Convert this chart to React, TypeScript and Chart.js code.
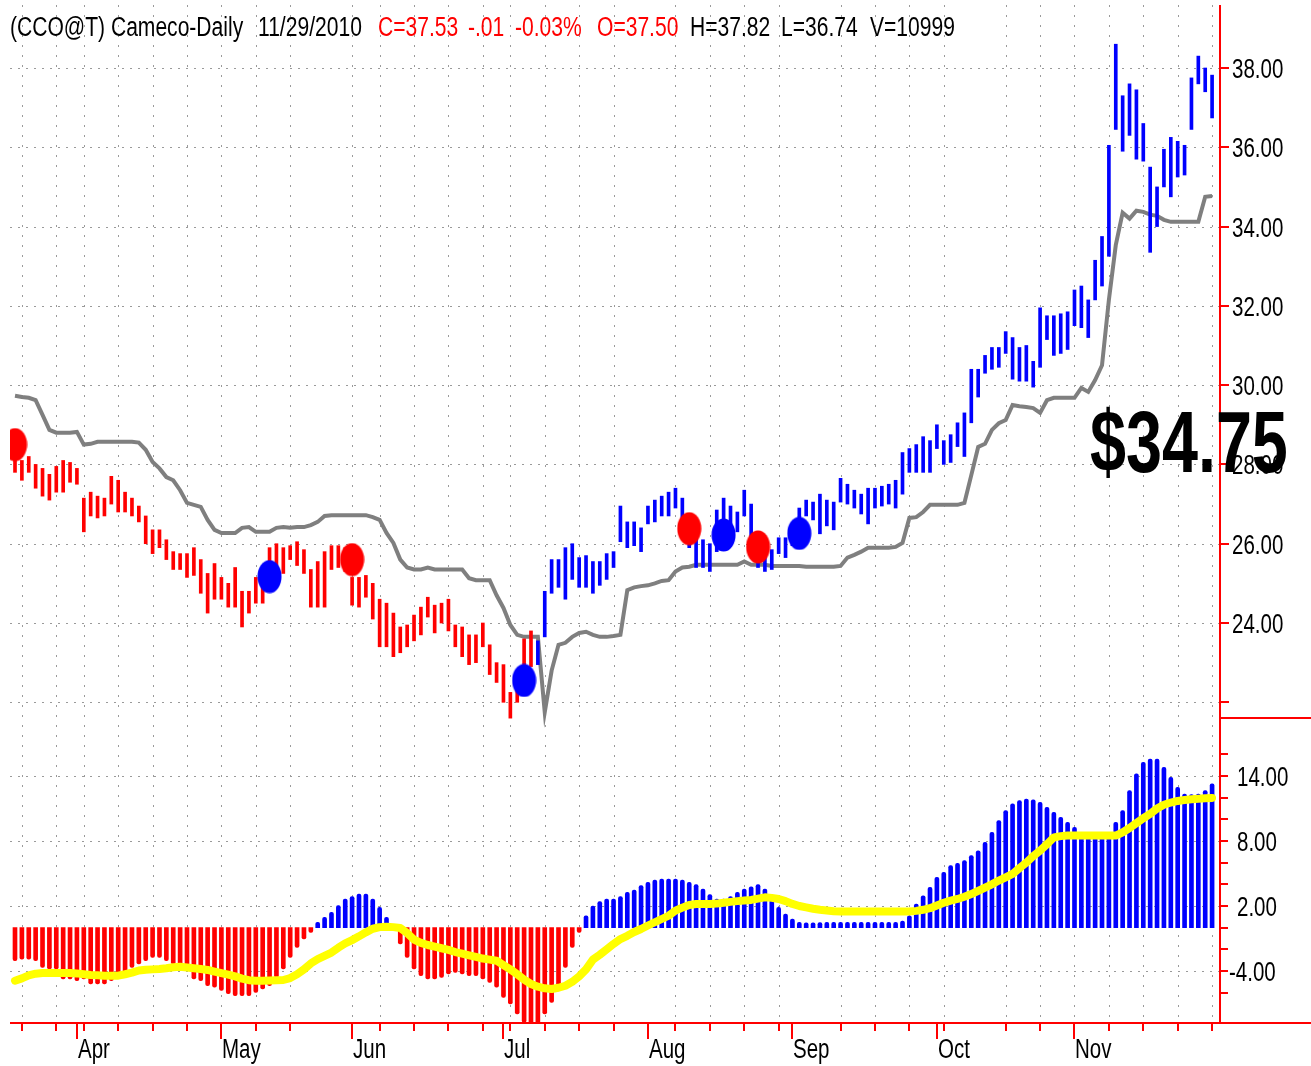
import React, { useEffect, useRef } from 'react';
import { Chart, registerables } from 'chart.js';

Chart.register(...registerables);

// ---------- DATA ----------
const priceHigh = [
  28.5, 28.1, 28.2, 28.0, 27.9, 27.75, 27.95, 28.1, 28.05, 27.9,
  27.15, 27.3, 27.2, 27.15, 27.7, 27.6, 27.3, 27.15, 26.95, 26.7,
  26.35, 26.35, 26.1, 25.8, 25.75, 25.75, 25.9, 25.6, 25.25, 25.5,
  25.15, 25.0, 25.4, 24.8, 24.8, 25.15, 25.25, 25.9, 26.0, 25.9,
  25.95, 26.05, 25.85, 25.35, 25.55, 25.8, 25.95, 25.95, 25.9, 25.15,
  25.15, 25.2, 25.0, 24.6, 24.5, 24.25, 23.9, 23.95, 24.2, 24.4,
  24.65, 24.45, 24.5, 24.6, 23.95, 23.9, 23.7, 23.7, 24.0, 23.45,
  23.0, 22.95, 22.25, 22.8, 23.6, 23.8, 23.55, 24.8, 25.6, 25.6,
  25.9, 26.0, 25.65, 25.7, 25.55, 25.55, 25.75, 25.8, 26.95, 26.55,
  26.55, 26.4, 26.95, 27.1, 27.2, 27.3, 27.4, 27.15, 26.6, 26.4,
  26.1, 26.0, 26.85, 27.15, 26.95, 26.8, 27.35, 27.0, 25.9, 25.95,
  25.85, 26.15, 26.15, 26.5, 26.9, 27.1, 27.05, 27.25, 27.1, 27.05,
  27.65, 27.5, 27.35, 27.25, 27.4, 27.4, 27.45, 27.5, 27.6, 28.3,
  28.4, 28.5, 28.7, 28.6, 29.0, 28.6, 28.75, 29.05, 29.3, 30.4,
  30.4, 30.75, 30.95, 30.95, 31.35, 31.2, 30.95, 31.0, 30.6, 31.95,
  31.75, 31.75, 31.8, 31.85, 32.4, 32.5, 32.15, 33.15, 33.75, 36.05,
  38.6, 37.3, 37.6, 37.45, 36.6, 35.5, 35.0, 35.95, 36.25, 36.15,
  36.05, 37.75, 38.3, 38.0, 37.82,
];

const priceLow = [
  27.8, 27.6, 27.8, 27.4, 27.2, 27.1, 27.3, 27.3, 27.55, 27.5,
  26.3, 26.7, 26.65, 26.7, 27.0, 26.8, 26.8, 26.7, 26.55, 26.0,
  25.75, 25.9, 25.6, 25.35, 25.35, 25.15, 25.2, 24.75, 24.25, 24.6,
  24.6, 24.4, 24.4, 23.9, 24.25, 24.5, 24.5, 25.1, 25.4, 25.25,
  25.6, 25.45, 25.25, 24.4, 24.4, 24.4, 25.35, 25.4, 25.3, 24.45,
  24.4, 24.65, 24.1, 23.4, 23.4, 23.15, 23.25, 23.4, 23.55, 23.7,
  24.15, 23.75, 24.0, 23.8, 23.4, 23.15, 22.95, 23.0, 23.4, 22.7,
  22.5, 22.0, 21.6, 22.0, 22.75, 22.9, 22.95, 23.65, 24.75, 24.9,
  24.6, 25.1, 24.9, 24.9, 24.75, 24.95, 25.1, 25.4, 26.05, 25.9,
  25.95, 25.8, 26.5, 26.55, 26.7, 26.7, 26.9, 26.4, 25.9, 25.4,
  25.4, 25.3, 25.8, 26.15, 26.15, 26.3, 26.7, 25.85, 25.4, 25.3,
  25.35, 25.75, 25.65, 25.95, 26.35, 26.7, 26.6, 26.25, 26.45, 26.35,
  27.05, 27.0, 26.9, 26.75, 26.5, 26.9, 26.95, 27.0, 26.9, 27.25,
  27.8, 27.8, 27.8, 27.8, 28.4, 28.0, 28.05, 28.45, 28.2, 29.05,
  29.7, 30.3, 30.4, 30.45, 30.8, 30.15, 30.1, 30.1, 29.95, 30.45,
  31.15, 30.75, 30.8, 30.9, 31.5, 31.45, 31.2, 32.15, 32.5, 33.25,
  36.45, 35.9, 36.3, 35.7, 35.65, 33.35, 34.0, 35.0, 34.75, 35.25,
  35.3, 36.45, 37.6, 37.4, 36.74,
];

const stopLine = [
  29.73, 29.7, 29.68, 29.62, 29.25, 28.87, 28.8, 28.8, 28.8, 28.82,
  28.5, 28.52, 28.57, 28.57, 28.57, 28.57, 28.57, 28.57, 28.55, 28.37,
  28.06, 27.9, 27.68, 27.6, 27.35, 27.03, 26.98, 26.93, 26.6, 26.35,
  26.27, 26.27, 26.27, 26.4, 26.42, 26.3, 26.3, 26.3, 26.4, 26.42,
  26.4, 26.42, 26.42, 26.47, 26.55, 26.7, 26.72, 26.72, 26.72, 26.72,
  26.72, 26.72, 26.67, 26.6, 26.27, 26.02, 25.6, 25.4, 25.35, 25.35,
  25.4, 25.35, 25.35, 25.35, 25.35, 25.35, 25.13, 25.08, 25.08, 25.08,
  24.7, 24.38, 23.95, 23.7, 23.65, 23.65, 23.65, 21.75, 22.8, 23.45,
  23.5, 23.65, 23.75, 23.78, 23.7, 23.65, 23.65, 23.67, 23.7, 24.83,
  24.9, 24.93, 24.95, 25.0, 25.06, 25.08, 25.3, 25.4, 25.42, 25.47,
  25.47, 25.47, 25.47, 25.47, 25.47, 25.47, 25.55, 25.47, 25.47, 25.47,
  25.44, 25.44, 25.44, 25.44, 25.44, 25.42, 25.42, 25.42, 25.42, 25.42,
  25.44, 25.65, 25.72, 25.8, 25.9, 25.9, 25.9, 25.9, 25.92, 26.02,
  26.65, 26.67, 26.8, 26.98, 26.98, 26.98, 26.98, 26.98, 27.03, 27.73,
  28.44, 28.52, 28.87, 29.04, 29.12, 29.5, 29.47, 29.45, 29.42, 29.3,
  29.62, 29.68, 29.68, 29.68, 29.68, 29.93, 29.83, 30.13, 30.5, 32.15,
  33.53, 34.35, 34.2, 34.4, 34.37, 34.3, 34.27, 34.17, 34.12, 34.12,
  34.12, 34.12, 34.12, 34.75, 34.77,
];

const histogram = [
  -3.05, -2.9, -2.9, -3.05, -3.66, -3.8, -3.8, -4.74, -4.74, -4.9,
  -4.74, -5.2, -5.2, -5.2, -4.9, -4.28, -4.12, -3.66, -3.35, -3.05,
  -2.74, -2.74, -3.05, -3.35, -3.66, -3.97, -4.74, -4.9, -5.36, -5.5,
  -5.8, -6.1, -6.28, -6.28, -6.28, -5.97, -5.66, -5.36, -4.59, -3.8,
  -2.74, -1.82, -1.05, -0.43, 0.49, 0.95, 1.41, 2.03, 2.65, 2.86,
  3.11, 3.11, 2.65, 1.88, 0.95, -0.28, -1.5, -2.74, -3.8, -4.43,
  -4.74, -4.74, -4.59, -4.28, -4.12, -4.28, -4.43, -4.43, -4.74, -5.05,
  -5.5, -6.43, -7.05, -7.97, -8.74, -9.2, -9.0, -7.97, -6.89, -5.5,
  -3.66, -1.82, -0.43, 1.1, 2.0, 2.4, 2.65, 2.65, 2.86, 3.26,
  3.48, 3.88, 4.18, 4.4, 4.49, 4.49, 4.49, 4.4, 4.18, 3.97,
  3.57, 3.05, 2.65, 2.65, 2.86, 3.26, 3.57, 3.78, 3.97, 3.57,
  2.96, 1.87, 1.26, 0.8, 0.5, 0.45, 0.45, 0.48, 0.5, 0.5,
  0.5, 0.5, 0.5, 0.5, 0.5, 0.5, 0.5, 0.5, 0.5, 0.6,
  1.1, 2.18, 2.95, 3.72, 4.65, 5.1, 5.72, 5.94, 6.19, 6.65,
  7.1, 7.88, 8.8, 9.88, 10.8, 11.42, 11.73, 11.88, 11.8, 11.57,
  11.1, 10.65, 10.19, 9.72, 9.26, 8.8, 8.5, 8.5, 8.5, 8.5,
  9.72, 10.8, 12.65, 14.2, 15.26, 15.57, 15.57, 14.8, 13.88, 12.95,
  12.34, 12.28, 12.34, 12.65, 13.27,
];

const signalLine = [
  -4.9, -4.68, -4.4, -4.25, -4.19, -4.19, -4.19, -4.19, -4.19, -4.22,
  -4.3, -4.37, -4.4, -4.43, -4.43, -4.43, -4.3, -4.15, -3.95, -3.88,
  -3.85, -3.82, -3.75, -3.65, -3.6, -3.68, -3.75, -3.82, -3.9, -4.05,
  -4.2, -4.34, -4.5, -4.7, -4.85, -4.89, -4.89, -4.87, -4.85, -4.83,
  -4.65, -4.3, -3.85, -3.3, -2.9, -2.6, -2.3, -1.85, -1.45, -1.15,
  -0.8, -0.43, -0.1, 0.05, 0.09, 0.05, -0.03, -0.5, -1.1, -1.4,
  -1.6, -1.75, -1.9, -2.05, -2.25, -2.4, -2.55, -2.7, -2.85, -2.95,
  -3.05, -3.45, -3.85, -4.3, -4.8, -5.2, -5.45, -5.6, -5.66, -5.55,
  -5.36, -5.0, -4.5, -3.85, -2.95, -2.5, -2.0, -1.5, -1.05, -0.75,
  -0.4, -0.12, 0.2, 0.5, 0.8, 1.1, 1.57, 1.85, 2.1, 2.19,
  2.19, 2.19, 2.22, 2.3, 2.38, 2.45, 2.5, 2.56, 2.68, 2.8,
  2.75, 2.65, 2.45, 2.19, 2.0, 1.87, 1.75, 1.65, 1.58, 1.52,
  1.5, 1.5, 1.5, 1.5, 1.5, 1.5, 1.5, 1.5, 1.5, 1.5,
  1.5, 1.55, 1.65, 1.8, 2.05, 2.3, 2.5, 2.65, 2.85, 3.1,
  3.4, 3.7, 4.0, 4.35, 4.65, 4.96, 5.5, 6.0, 6.6, 7.11,
  7.7, 8.34, 8.45, 8.5, 8.5, 8.5, 8.5, 8.5, 8.5, 8.5,
  8.5, 8.8, 9.2, 9.65, 10.1, 10.5, 11.0, 11.35, 11.55, 11.7,
  11.78, 11.85, 11.9, 11.95, 11.98,
];

const FIRST_BLUE_BAR = 76;

const redDotIndex = [0, 49, 98, 108];
const redDotPrice = [28.5, 25.6, 26.38, 25.92];
const blueDotIndex = [37, 74, 103, 114];
const blueDotPrice = [25.17, 22.55, 26.22, 26.26];

const monthTickIndex = [9, 30, 49, 71, 92, 113, 134, 154];
const monthLabels = ['Apr', 'May', 'Jun', 'Jul', 'Aug', 'Sep', 'Oct', 'Nov'];
const weekTickIndex = [
  1, 6, 10, 15, 20, 25, 30, 35, 40, 49, 53, 58, 63, 68, 72, 77, 82, 87,
  96, 101, 106, 111, 120, 125, 130, 135, 144, 149, 154, 159, 164, 169, 174,
];

const priceTicks = [22, 24, 26, 28, 30, 32, 34, 36, 38];
const priceTickLabels = ['', '24.00', '26.00', '28.00', '30.00', '32.00', '34.00', '36.00', '38.00'];
const indicatorTicks = [-6, -4, -2, 0, 2, 4, 6, 8, 10, 12, 14, 16];
const indicatorLabelValues = [-4, 2, 8, 14];
const indicatorLabels = ['-4.00', '2.00', '8.00', '14.00'];

const titleParts = [
  { text: '(CCO@T) Cameco-Daily', x: 10, color: '#000000' },
  { text: '11/29/2010', x: 258, color: '#000000' },
  { text: 'C=37.53', x: 378, color: '#ff0000' },
  { text: '-.01', x: 468, color: '#ff0000' },
  { text: '-0.03%', x: 515, color: '#ff0000' },
  { text: 'O=37.50', x: 597, color: '#ff0000' },
  { text: 'H=37.82', x: 690, color: '#000000' },
  { text: 'L=36.74', x: 781, color: '#000000' },
  { text: 'V=10999', x: 870, color: '#000000' },
];
const lastStopText = '$34.75';

// ---------- STYLE ----------
const RED = '#ff0000';
const BLUE = '#0000ff';
const GRID = '#9a9a9a';
const FONT_FAMILY = '"Liberation Sans", Arial, Helvetica, sans-serif';
const W = 1311;
const H = 1066;

function drawText(
  ctx: CanvasRenderingContext2D,
  text: string,
  x: number,
  y: number,
  font: string,
  color: string,
  sx: number,
) {
  ctx.save();
  ctx.font = font;
  ctx.fillStyle = color;
  ctx.textBaseline = 'alphabetic';
  ctx.textAlign = 'left';
  ctx.translate(x, y);
  ctx.scale(sx, 1);
  ctx.fillText(text, 0, 0);
  ctx.restore();
}

function makeDot(color: string): HTMLCanvasElement {
  const c = document.createElement('canvas');
  c.width = 25;
  c.height = 34;
  const g = c.getContext('2d')!;
  g.fillStyle = color;
  g.beginPath();
  g.ellipse(12.5, 17, 12, 16.5, 0, 0, Math.PI * 2);
  g.fill();
  return c;
}

const overlayPlugin = {
  id: 'overlay',
  beforeDatasetsDraw(chart: any) {
    const { ctx, chartArea: a, scales } = chart;
    const xs = scales.x;
    const yP = scales.yP;
    const yH = scales.yH;
    ctx.save();
    ctx.strokeStyle = GRID;
    ctx.lineWidth = 1;
    ctx.setLineDash([2, 8]);
    for (const w of weekTickIndex) {
      const px = Math.round(xs.getPixelForValue(w)) + 0.5;
      ctx.beginPath();
      ctx.moveTo(px, a.top);
      ctx.lineTo(px, a.bottom);
      ctx.stroke();
    }
    ctx.setLineDash([2, 6]);
    for (const v of priceTicks) {
      const py = Math.round(yP.getPixelForValue(v)) + 0.5;
      ctx.beginPath();
      ctx.moveTo(a.left, py);
      ctx.lineTo(a.right, py);
      ctx.stroke();
    }
    for (const v of indicatorLabelValues) {
      const py = Math.round(yH.getPixelForValue(v)) + 0.5;
      ctx.beginPath();
      ctx.moveTo(a.left, py);
      ctx.lineTo(a.right, py);
      ctx.stroke();
    }
    ctx.restore();
  },
  afterDatasetsDraw(chart: any) {
    const { ctx, chartArea: a, scales } = chart;
    const xs = scales.x;
    const yP = scales.yP;
    const yH = scales.yH;
    const labelFont = `27px ${FONT_FAMILY}`;
    ctx.save();
    ctx.fillStyle = RED;
    ctx.fillRect(a.right - 1, a.top, 2, a.bottom - a.top);
    ctx.fillRect(a.left, a.bottom - 1, W - a.left, 2);
    const sep = Math.round(yP.getPixelForValue(21.6));
    ctx.fillRect(a.right, sep - 1, W - a.right, 2);
    priceTicks.forEach((v, i) => {
      const py = Math.round(yP.getPixelForValue(v));
      ctx.fillStyle = RED;
      ctx.fillRect(a.right + 1, py - 1, 8, 2);
      if (priceTickLabels[i]) drawText(ctx, priceTickLabels[i], a.right + 12, py + 10, labelFont, '#000', 0.76);
    });
    indicatorTicks.forEach((v) => {
      const py = Math.round(yH.getPixelForValue(v));
      ctx.fillStyle = RED;
      ctx.fillRect(a.right + 1, py - 1, 7, 2);
    });
    indicatorLabelValues.forEach((v, i) => {
      const py = Math.round(yH.getPixelForValue(v));
      const lx = v < 0 ? a.right + 9 : a.right + 17;
      drawText(ctx, indicatorLabels[i], lx, py + 10, labelFont, '#000', 0.76);
    });
    ctx.fillStyle = RED;
    weekTickIndex.forEach((w) => {
      const px = Math.round(xs.getPixelForValue(w));
      ctx.fillRect(px - 1, a.bottom, 2, 8);
    });
    monthTickIndex.forEach((m, i) => {
      const px = Math.round(xs.getPixelForValue(m));
      ctx.fillStyle = RED;
      ctx.fillRect(px - 1, a.bottom, 2, 16);
      drawText(ctx, monthLabels[i], px + 1, a.bottom + 35, labelFont, '#000', 0.76);
    });
    titleParts.forEach((p) => {
      drawText(ctx, p.text, p.x, 36, `27px ${FONT_FAMILY}`, p.color, 0.78);
    });
    drawText(ctx, lastStopText, 1090, 472, `bold 88px ${FONT_FAMILY}`, '#000', 0.735);
    ctx.restore();
  },
};

export default function App() {
  const ref = useRef<HTMLCanvasElement>(null);

  useEffect(() => {
    const canvas = ref.current;
    if (!canvas) return;
    const idx = priceHigh.map((_, i) => i);

    const priceBars = idx.map((i) => ({ x: i, y: [priceLow[i], priceHigh[i]] }));
    const priceColors = idx.map((i) => (i < FIRST_BLUE_BAR ? RED : BLUE));
    const stopData = stopLine.map((v, i) => ({ x: i, y: v }));
    const histData = histogram.map((v, i) => ({ x: i, y: v }));
    const histColors = histogram.map((v) => (v < 0 ? RED : BLUE));
    const sigData = signalLine.map((v, i) => ({ x: i, y: v }));
    const redDots = redDotIndex.map((i, k) => ({ x: i, y: redDotPrice[k] }));
    const blueDots = blueDotIndex.map((i, k) => ({ x: i, y: blueDotPrice[k] }));

    const chart = new Chart(canvas, {
      type: 'bar',
      data: {
        datasets: [
          {
            type: 'line',
            data: redDots,
            yAxisID: 'yP',
            xAxisID: 'x',
            showLine: false,
            pointStyle: makeDot(RED) as any,
            pointRadius: 12,
            order: 0,
          } as any,
          {
            type: 'line',
            data: blueDots,
            yAxisID: 'yP',
            xAxisID: 'x',
            showLine: false,
            pointStyle: makeDot(BLUE) as any,
            pointRadius: 12,
            order: 1,
          } as any,
          {
            type: 'bar',
            data: priceBars,
            yAxisID: 'yP',
            xAxisID: 'x',
            backgroundColor: priceColors,
            borderWidth: 0,
            barThickness: 3,
            grouped: false,
            order: 2,
          } as any,
          {
            type: 'line',
            data: stopData,
            yAxisID: 'yP',
            xAxisID: 'x',
            borderColor: '#7f7f7f',
            borderWidth: 4,
            pointRadius: 0,
            tension: 0,
            fill: false,
            order: 3,
          } as any,
          {
            type: 'line',
            data: sigData,
            yAxisID: 'yH',
            xAxisID: 'x',
            borderColor: '#ffff00',
            borderWidth: 8,
            borderCapStyle: 'round',
            borderJoinStyle: 'round',
            pointRadius: 0,
            tension: 0,
            fill: false,
            order: 4,
          } as any,
          {
            type: 'bar',
            data: histData,
            yAxisID: 'yH',
            xAxisID: 'x',
            backgroundColor: histColors,
            borderWidth: 0,
            borderRadius: 2,
            barThickness: 4,
            grouped: false,
            order: 5,
          } as any,
        ],
      },
      options: {
        responsive: false,
        animation: false,
        devicePixelRatio: 1,
        events: [],
        layout: { autoPadding: false, padding: { left: 10, right: 91, top: 5, bottom: 43 } },
        scales: {
          x: { type: 'linear', display: false, offset: false, grid: { offset: false }, min: -0.727, max: 175.15 },
          yP: { type: 'linear', axis: 'y', display: false, offset: false, min: 13.91, max: 39.589 },
          yH: { type: 'linear', axis: 'y', display: false, offset: false, min: -8.8, max: 85.17 },
        } as any,
        plugins: {
          legend: { display: false },
          tooltip: { enabled: false },
          title: { display: false },
        },
      } as any,
      plugins: [overlayPlugin as any],
    });
    return () => chart.destroy();
  }, []);

  return (
    <div style={{ position: 'absolute', left: 0, top: 0, width: W, height: H, background: '#ffffff' }}>
      <canvas ref={ref} width={W} height={H} style={{ display: 'block', width: W, height: H }} />
    </div>
  );
}
